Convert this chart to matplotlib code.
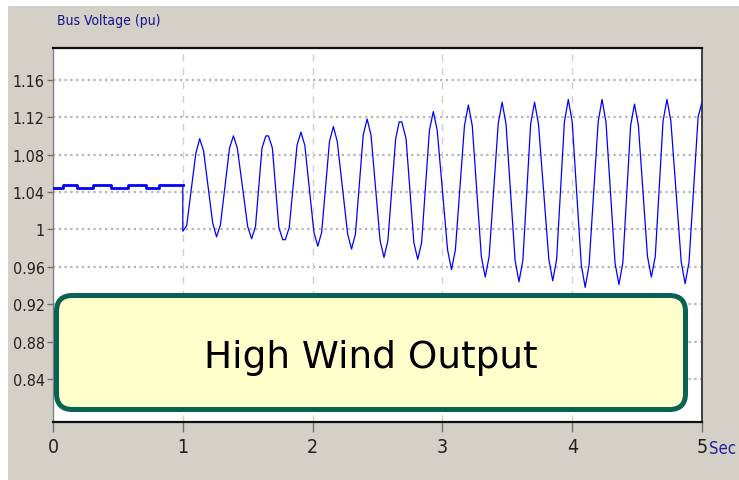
import matplotlib
matplotlib.use("Agg")
import matplotlib.pyplot as plt
from matplotlib.patches import FancyBboxPatch, Rectangle
from matplotlib.transforms import IdentityTransform

# ---- data ----
pre_t = [0.0, 0.08, 0.187, 0.31, 0.45, 0.58, 0.715, 0.82, 1.0]
pre_v = [1.044, 1.047, 1.044, 1.047, 1.044, 1.047, 1.044, 1.047, 1.047]

post_t = [1.0, 1.0, 1.03, 1.10, 1.13, 1.16,
          1.23, 1.26, 1.29, 1.36, 1.39, 1.42,
          1.50, 1.53, 1.56, 1.61, 1.64, 1.66, 1.69,
          1.74, 1.77, 1.79, 1.82, 1.88, 1.91, 1.94,
          2.01, 2.04, 2.07, 2.13, 2.16, 2.19,
          2.27, 2.30, 2.33, 2.39, 2.42, 2.45,
          2.52, 2.55, 2.58, 2.64, 2.667, 2.687, 2.72,
          2.78, 2.81, 2.84, 2.90, 2.93, 2.96,
          3.04, 3.07, 3.10, 3.17, 3.20, 3.23,
          3.30, 3.33, 3.36, 3.43, 3.46, 3.49,
          3.56, 3.59, 3.62, 3.68, 3.71, 3.74,
          3.82, 3.85, 3.88, 3.94, 3.97, 4.00,
          4.07, 4.10, 4.13, 4.20, 4.23, 4.26,
          4.33, 4.36, 4.39, 4.45, 4.48, 4.51,
          4.58, 4.61, 4.64, 4.70, 4.73, 4.76,
          4.84, 4.87, 4.90, 4.97, 5.0]
post_v = [1.047, 0.998, 1.004, 1.081, 1.097, 1.084,
          1.007, 0.992, 1.005, 1.087, 1.100, 1.087,
          1.003, 0.990, 1.003, 1.087, 1.100, 1.100, 1.087,
          1.002, 0.989, 0.989, 1.002, 1.090, 1.104, 1.090,
          0.997, 0.982, 0.997, 1.094, 1.110, 1.094,
          0.995, 0.979, 0.995, 1.101, 1.118, 1.101,
          0.988, 0.970, 0.988, 1.097, 1.115, 1.115, 1.097,
          0.986, 0.968, 0.986, 1.106, 1.126, 1.106,
          0.978, 0.957, 0.978, 1.111, 1.133, 1.111,
          0.971, 0.949, 0.971, 1.113, 1.136, 1.113,
          0.967, 0.944, 0.967, 1.113, 1.136, 1.113,
          0.968, 0.945, 0.968, 1.115, 1.139, 1.115,
          0.962, 0.938, 0.962, 1.115, 1.139, 1.115,
          0.964, 0.941, 0.964, 1.111, 1.134, 1.111,
          0.971, 0.949, 0.971, 1.116, 1.139, 1.116,
          0.965, 0.942, 0.965, 1.120, 1.136]

y_ticks = [1.16, 1.12, 1.08, 1.04, 1.00, 0.96, 0.92, 0.88, 0.84]
y_tick_labels = ["1.16", "1.12", "1.08", "1.04", "1", "0.96", "0.92", "0.88", "0.84"]
x_ticks = [0, 1, 2, 3, 4, 5]
x_tick_labels = ["0", "1", "2", "3", "4", "5"]

title_text = "Bus Voltage (pu)"
unit_text = "Sec"
box_text = "High Wind Output"

# ---- figure ----
W, H = 739, 481
fig = plt.figure(figsize=(W / 100, H / 100), dpi=100)
fig.patch.set_facecolor("white")
bg = Rectangle((8 / W, 0), 1 - 8 / W, 1 - 7 / H, transform=fig.transFigure,
               facecolor="#d4d0c8", edgecolor="none", zorder=-10)
fig.patches.append(bg)

L, T, R, B = 53, 49, 702, 423
ax = fig.add_axes([L / W, (H - B) / H, (R - L) / W, (B - T) / H])
ax.set_facecolor("white")

narrow = dict(family="DejaVu Sans", stretch="condensed")

ax.plot(pre_t, pre_v, color="#0000ff", lw=2.0, drawstyle="steps-post", zorder=3)
ax.plot(post_t, post_v, color="#0000ff", lw=0.9, zorder=3)

ax.set_xlim(0, 5)
ax.set_ylim(0.794, 1.194)

for y in y_ticks:
    ax.axhline(y, color="#b4b4b4", lw=1.6, linestyle=(0, (1, 1.6)), zorder=1)
for x in x_ticks[1:-1]:
    ax.axvline(x, color="#cfcfcf", lw=1.0, linestyle=(0, (5, 5)), zorder=1)

ax.set_yticks(y_ticks)
ax.set_yticklabels(y_tick_labels, fontsize=11.5, color="#202020", **narrow)
ax.set_xticks(x_ticks)
ax.set_xticklabels(x_tick_labels, fontsize=14, color="#202020", **narrow)
ax.tick_params(axis="y", direction="out", length=4, width=1, color="#707070", pad=2)
ax.tick_params(axis="x", direction="out", length=7.5, width=1, color="#707070", pad=3)

ax.spines["top"].set_color("#101010")
ax.spines["top"].set_linewidth(1.6)
ax.spines["bottom"].set_color("#101010")
ax.spines["bottom"].set_linewidth(1.6)
ax.spines["left"].set_color("#808080")
ax.spines["left"].set_linewidth(1.0)
ax.spines["right"].set_color("#404040")
ax.spines["right"].set_linewidth(1.4)

fig.text(57 / W, 1 - 21 / H, title_text, fontsize=10, color="#14148c",
         ha="left", va="center", **narrow)
fig.text(709 / W, 1 - 449 / H, unit_text, fontsize=12, color="#2020a0",
         ha="left", va="center", **narrow)

# ---- annotation box (display pixels) ----
lw_px = 5
x0, x1 = 54 + lw_px / 2, 688 - lw_px / 2
y0, y1 = H - 413 + lw_px / 2, H - 294 - lw_px / 2
box = FancyBboxPatch((x0, y0), x1 - x0, y1 - y0,
                     boxstyle="round,pad=0,rounding_size=16",
                     transform=IdentityTransform(), facecolor="#ffffcc",
                     edgecolor="#0a6352", linewidth=lw_px * 72 / 100, zorder=5)
fig.patches.append(box)
fig.text(371 / W, 1 - 368 / H, box_text, family="DejaVu Sans",
         fontsize=27, color="black", ha="center", va="baseline", zorder=6)

fig.savefig("out.png", dpi=100)
